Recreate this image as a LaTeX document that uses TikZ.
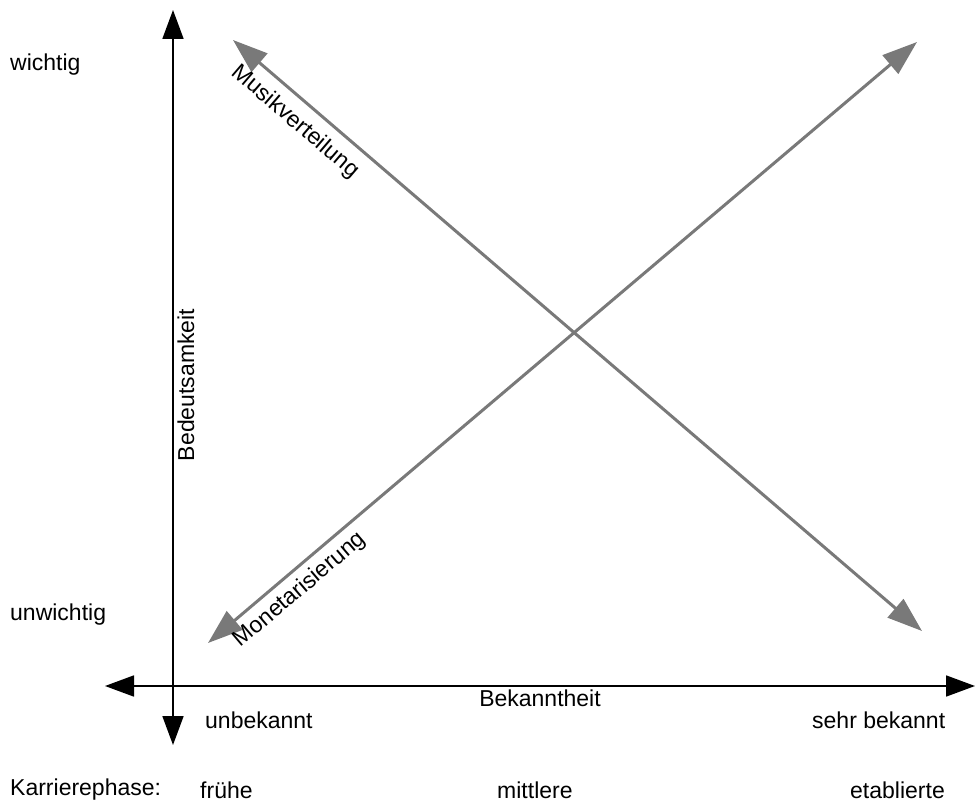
\documentclass[tikz,border=0pt]{standalone}
\usepackage{fontspec}
\setmainfont{Liberation Sans}
\usetikzlibrary{arrows.meta}
\begin{document}
\begin{tikzpicture}[x=1pt,y=-1pt,
  axis/.style={line width=1.8pt,black,{Triangle[length=29pt,width=21pt]}-{Triangle[length=29pt,width=21pt]}},
  trend/.style={line width=3pt,color=gray!95!black,{Triangle[length=35pt,width=24pt]}-{Triangle[length=35pt,width=24pt]}},
  lbl/.style={font=\fontsize{23}{27}\selectfont,inner sep=0pt},
  lblw/.style={lbl,anchor=west}]
\useasboundingbox (0,0) rectangle (975,802);
% axes
\coordinate (vtop) at (173,10);
\coordinate (vbot) at (173,745);
\coordinate (hleft) at (105,686);
\coordinate (hright) at (975,686);
\draw[axis] (vbot) -- (vtop);
\draw[axis] (hleft) -- (hright);
% trend arrows
\coordinate (m1) at (233,40);
\coordinate (m2) at (922,631);
\coordinate (n1) at (208,643);
\coordinate (n2) at (917,42);
\draw[trend] (m1) -- (m2);
\draw[trend] (n1) -- (n2);
% line labels
\node[lbl,rotate=-40.6] (mv) at (295,122) {Musikverteilung};
\node[lbl,rotate=40.3] (mo) at (300,590) {Monetarisierung};
\node[lbl,rotate=90] (bd) at (186,385) {Bedeutsamkeit};
\node[lbl] (bk) at (540,698) {Bekanntheit};
% side labels
\node[lblw] (wi) at (10,65) {wichtig};
\node[lblw] (uw) at (10,615) {unwichtig};
\node[lblw] (ub) at (205,720) {unbekannt};
\node[lblw] (sb) at (812,720) {sehr bekannt};
\node[lblw] (kp) at (10,790) {Karrierephase:};
\node[lblw] (fr) at (200,790) {frühe};
\node[lblw] (mi) at (497,790) {mittlere};
\node[lblw] (et) at (850,790) {etablierte};
\end{tikzpicture}
\end{document}
